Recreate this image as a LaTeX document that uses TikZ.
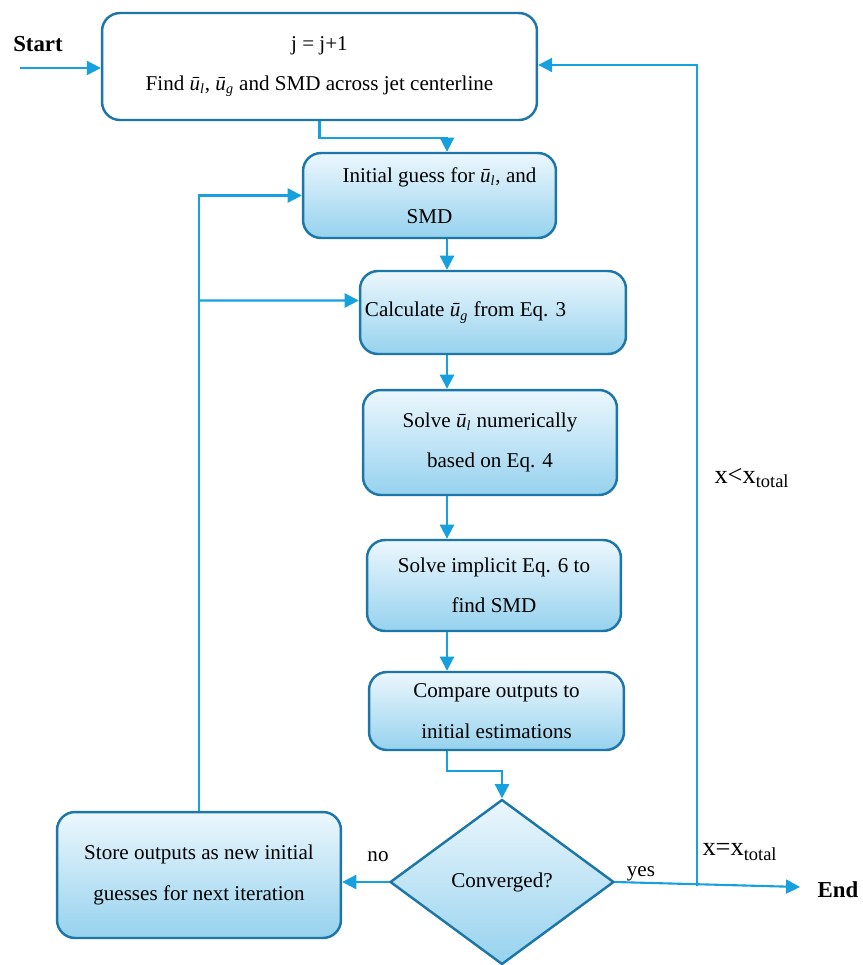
\documentclass[tikz,border=0pt]{standalone}
\usepackage{fontspec}
\setmainfont{Liberation Serif}
\usetikzlibrary{shapes,arrows,arrows.meta}
\definecolor{linkblue}{RGB}{22,160,222}
\definecolor{edgeblue}{RGB}{28,118,168}
\definecolor{fadetop}{RGB}{236,247,253}
\definecolor{fadebot}{RGB}{150,210,238}
\newcommand{\uvel}[1]{\textit{ū}\textsubscript{\textit{#1}}}

\begin{document}
\begin{tikzpicture}[x=0.02cm, y=-0.02cm,
    box/.style={draw=edgeblue, line width=1.4pt, rounded corners=0.36cm, align=center,
        top color=fadetop, bottom color=fadebot, font=\fontsize{12}{23}\selectfont},
    arr/.style={-{Triangle[length=8pt,width=8pt]}, draw=linkblue, line width=1.2pt},
    lbl/.style={font=\fontsize{12}{14}\selectfont}]
\useasboundingbox (0,0) rectangle (863,965);
% boxes of the loop
\node[box, fill=white, top color=white, bottom color=white, minimum width=8.7cm, minimum height=2.14cm] (top) at (319.5,66.5) {j = j+1\\Find \uvel{l}, \uvel{g} and SMD across jet centerline};
\node[box, minimum width=5.06cm, minimum height=1.7cm] (init) at (429.5,195.5) {\hspace*{0.4cm}Initial guess for \uvel{l}, and\\SMD};
\node[box, minimum width=5.32cm, minimum height=1.66cm] (calc) at (493,312.5) {\hspace*{-1.1cm}Calculate \uvel{g} from Eq. 3};
\node[box, minimum width=5.08cm, minimum height=2.1cm] (solveu) at (490,442.5) {Solve \uvel{l} numerically\\based on Eq. 4};
\node[box, minimum width=5.08cm, minimum height=1.82cm] (solvesmd) at (494,585.5) {Solve implicit Eq. 6 to\\find SMD};
\node[box, minimum width=5.1cm, minimum height=1.56cm] (comp) at (496.5,711) {Compare outputs to\\initial estimations};
\node[box, diamond, rounded corners=0pt, inner sep=0pt, minimum width=4.48cm, minimum height=3.3cm] (conv) at (502,882) {Converged?};
\node[box, minimum width=5.68cm, minimum height=2.52cm] (store) at (199,875) {Store outputs as new initial\\guesses for next iteration};
% ends and labels
\node[font=\fontsize{13}{15}\selectfont\bfseries] (start) at (38,44) {Start};
\node[font=\fontsize{13}{15}\selectfont\bfseries] (end) at (838,890) {End};
\node[lbl] (no) at (378,857) {no};
\node[lbl] (yes) at (641,874) {yes};
\node[font=\fontsize{15}{18}\selectfont] (less) at (752,478) {x<x\textsubscript{total}};
\node[font=\fontsize{15}{18}\selectfont] (equal) at (740,852) {x=x\textsubscript{total}};
\coordinate (entry) at (20,68);
\coordinate (exit) at (800,887);
\coordinate (loop) at (697,886);
\coordinate (mid) at (447,0);
% connectors
\draw[arr] (entry) -- (entry -| top.west);
\draw[arr] (top.south) -- ++(0,17) -| (mid |- init.north);
\draw[arr] (mid |- init.south) -- (mid |- calc.north);
\draw[arr] (mid |- calc.south) -- (mid |- solveu.north);
\draw[arr] (mid |- solveu.south) -- (mid |- solvesmd.north);
\draw[arr] (mid |- solvesmd.south) -- (mid |- comp.north);
\draw[arr] (mid |- comp.south) -- ++(0,20) -| (conv.north);
\draw[arr] (conv.west) -- (conv.west -| store.east);
\draw[arr] (store.north) |- (init.west);
\draw[arr] (store.north |- calc.west) ++(0,-12) -- ([yshift=0.24cm]calc.west);
\draw[arr] (conv.east) -- (exit);
\draw[arr] (loop) |- ([yshift=0.03cm]top.east);
\end{tikzpicture}
\end{document}
